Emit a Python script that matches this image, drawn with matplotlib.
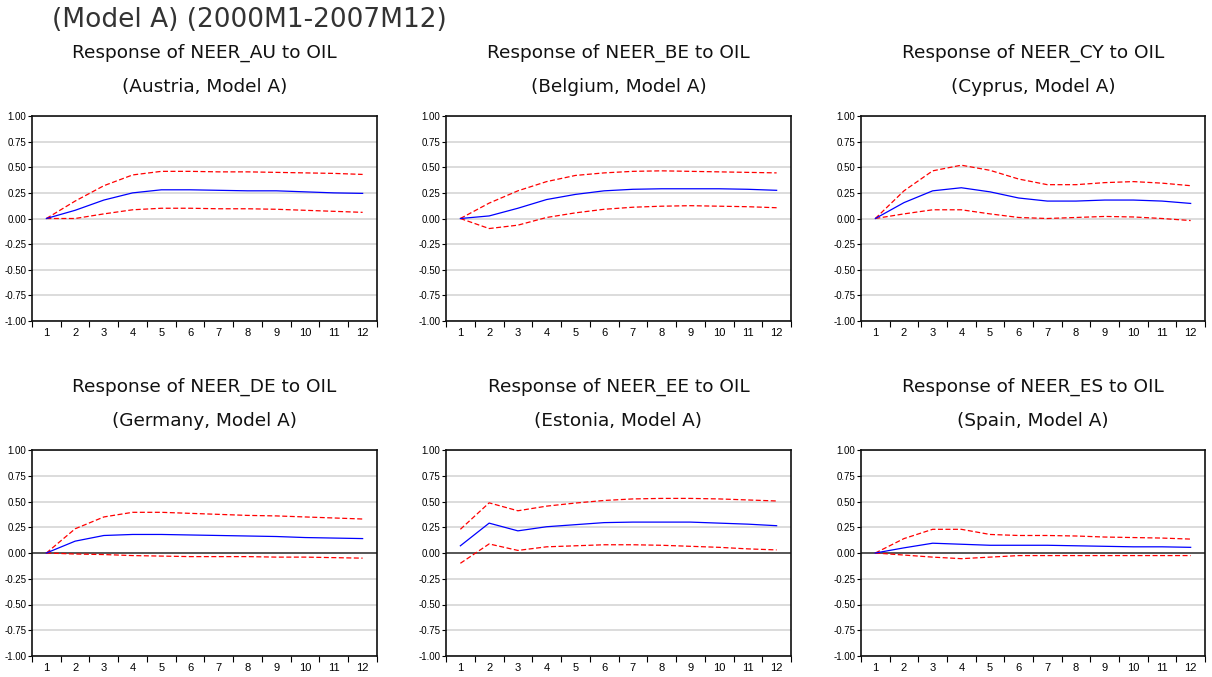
import matplotlib
matplotlib.use("Agg")
import matplotlib.pyplot as plt
import numpy as np

# horizon (months)
steps = list(range(1, 13))

countries = ["AU", "BE", "CY", "DE", "EE", "ES"]
names = ["Austria", "Belgium", "Cyprus", "Germany", "Estonia", "Spain"]

# impulse responses
resp_au = [0.0, 0.08, 0.18, 0.25, 0.28, 0.28, 0.275, 0.27, 0.27, 0.26, 0.25, 0.245]
upper_au = [0.0, 0.17, 0.32, 0.425, 0.46, 0.46, 0.455, 0.455, 0.45, 0.445, 0.44, 0.43]
lower_au = [0.0, 0.0, 0.045, 0.085, 0.10, 0.10, 0.095, 0.095, 0.09, 0.08, 0.07, 0.06]

resp_be = [0.0, 0.025, 0.10, 0.185, 0.235, 0.27, 0.285, 0.29, 0.29, 0.29, 0.285, 0.275]
upper_be = [0.0, 0.15, 0.27, 0.36, 0.42, 0.445, 0.46, 0.465, 0.46, 0.455, 0.45, 0.445]
lower_be = [0.0, -0.098, -0.065, 0.01, 0.055, 0.09, 0.11, 0.12, 0.125, 0.12, 0.115, 0.105]

resp_cy = [0.0, 0.155, 0.27, 0.30, 0.26, 0.20, 0.17, 0.17, 0.18, 0.18, 0.17, 0.147]
upper_cy = [0.0, 0.27, 0.465, 0.52, 0.47, 0.385, 0.33, 0.33, 0.35, 0.36, 0.345, 0.32]
lower_cy = [0.0, 0.045, 0.085, 0.085, 0.045, 0.01, 0.0, 0.01, 0.02, 0.015, 0.0, -0.02]

resp_de = [0.0, 0.115, 0.17, 0.18, 0.18, 0.175, 0.17, 0.165, 0.16, 0.15, 0.145, 0.14]
upper_de = [0.0, 0.235, 0.35, 0.395, 0.395, 0.385, 0.375, 0.365, 0.36, 0.35, 0.34, 0.33]
lower_de = [0.0, -0.01, -0.015, -0.025, -0.03, -0.035, -0.035, -0.035, -0.04, -0.04, -0.045, -0.05]

resp_ee = [0.07, 0.29, 0.215, 0.255, 0.275, 0.295, 0.30, 0.30, 0.30, 0.29, 0.28, 0.265]
upper_ee = [0.23, 0.487, 0.41, 0.455, 0.485, 0.51, 0.525, 0.53, 0.53, 0.525, 0.515, 0.505]
lower_ee = [-0.10, 0.088, 0.025, 0.06, 0.07, 0.08, 0.08, 0.075, 0.065, 0.055, 0.04, 0.03]

resp_es = [0.0, 0.05, 0.095, 0.085, 0.075, 0.075, 0.075, 0.07, 0.065, 0.06, 0.06, 0.055]
upper_es = [0.0, 0.14, 0.23, 0.23, 0.18, 0.17, 0.17, 0.165, 0.155, 0.15, 0.145, 0.135]
lower_es = [0.0, -0.02, -0.04, -0.055, -0.04, -0.025, -0.025, -0.025, -0.025, -0.025, -0.025, -0.025]

responses = [resp_au, resp_be, resp_cy, resp_de, resp_ee, resp_es]
uppers = [upper_au, upper_be, upper_cy, upper_de, upper_ee, upper_es]
lowers = [lower_au, lower_be, lower_cy, lower_de, lower_ee, lower_es]

yticks = [1.0, 0.75, 0.5, 0.25, 0.0, -0.25, -0.5, -0.75, -1.0]

W, H = 1212, 677
fig = plt.figure(figsize=(W / 100, H / 100), dpi=100)

col_left = [32, 446, 861]
col_width = [345, 345, 344]
row_top = [116, 450]
row_bottom = [321, 656]
title_y1 = [53, 387]
title_y2 = [87, 421]

fig.text(52 / W, 1 - 20 / H, "(Model A) (2000M1-2007M12)", fontsize=19,
         family="DejaVu Sans", color="#333333", va="center", ha="left")

for i in range(6):
    r, c = divmod(i, 3)
    x0 = col_left[c] / W
    w = col_width[c] / W
    y0 = 1 - row_bottom[r] / H
    h = (row_bottom[r] - row_top[r]) / H
    ax = fig.add_axes([x0, y0, w, h])

    for yv in yticks:
        ax.axhline(yv, color="#d6d6d6", lw=1.2, zorder=0)
    if r == 1:
        ax.axhline(0, color="#404040", lw=1.2, zorder=1)

    ax.plot(steps, uppers[i], color="red", lw=0.9, ls=(0, (4, 2)), zorder=3)
    ax.plot(steps, lowers[i], color="red", lw=0.9, ls=(0, (4, 2)), zorder=3)
    ax.plot(steps, responses[i], color="blue", lw=0.9, zorder=4)

    ax.set_xlim(0.5, 12.5)
    ax.set_ylim(-1.0, 1.0)
    ax.set_yticks(yticks)
    ax.set_yticklabels(["%.2f" % v for v in yticks], family="Liberation Sans")
    ax.set_xticks(np.arange(0.5, 13, 1.0))
    ax.set_xticklabels([])
    ax.set_xticks(steps, minor=True)
    ax.set_xticklabels([str(s) for s in steps], minor=True, family="Liberation Sans")
    ax.tick_params(axis="x", which="major", direction="out", length=4, width=0.8)
    ax.tick_params(axis="x", which="minor", length=0, pad=5, labelsize=8)
    ax.tick_params(axis="y", direction="out", length=3, width=0.8, pad=1, labelsize=7)
    for s in ax.spines.values():
        s.set_linewidth(1.2)
        s.set_color("#111111")

    xc = (col_left[c] + col_width[c] / 2) / W
    fig.text(xc, 1 - title_y1[r] / H, "Response of NEER_%s to OIL" % countries[i],
             fontsize=13.3, family="DejaVu Sans", ha="center", va="center", color="#111111")
    fig.text(xc, 1 - title_y2[r] / H, "(%s, Model A)" % names[i],
             fontsize=13.3, family="DejaVu Sans", ha="center", va="center", color="#111111")

fig.savefig("out.png", dpi=100)
